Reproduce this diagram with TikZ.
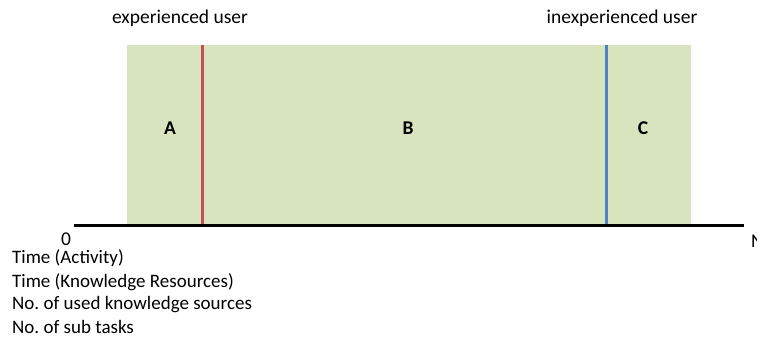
\documentclass[tikz,border=0pt]{standalone}
\usepackage{fontspec}
\setmainfont{Carlito}
\frenchspacing
\definecolor{zonegreen}{HTML}{D7E4BD}
\definecolor{expred}{HTML}{C0504D}
\definecolor{inexpblue}{HTML}{4F81BD}
\begin{document}
\begin{tikzpicture}[x=1pt,y=-1pt,
  lbl/.style={font=\fontsize{19.5}{22}\selectfont, inner sep=0pt},
  zone/.style={font=\fontsize{19.5}{22}\selectfont\bfseries, inner sep=0pt},
  metric/.style={font=\fontsize{19}{22}\selectfont, inner sep=0pt, anchor=west}]
\useasboundingbox (0,0) rectangle (757,338);
\fill[zonegreen] (127,45) rectangle (691,225);
\coordinate (redtop) at (202,45);
\coordinate (redbot) at (202,225);
\coordinate (bluetop) at (606,45);
\coordinate (bluebot) at (606,225);
\draw[expred, line width=3pt] (redtop) -- (redbot);
\draw[inexpblue, line width=3pt] (bluetop) -- (bluebot);
\coordinate (axl) at (74,225.5);
\coordinate (axr) at (744,225.5);
\draw[black, line width=3pt] (axl) -- (axr);
\node[zone] (A) at (170,128) {A};
\node[zone] (B) at (408,128) {B};
\node[zone] (C) at (643,128) {C};
\node[lbl] (exp) at (180,18) {experienced user};
\node[lbl] (inexp) at (622,18) {inexperienced user};
\node[lbl] (zero) at (66,239) {0};
\node[lbl, anchor=west] (N) at (751,241) {N};
\node[metric] (m1) at (12,258) {Time (Activity)};
\node[metric] (m2) at (12,282) {Time (Knowledge Resources)};
\node[metric] (m3) at (12,305) {No. of used knowledge sources};
\node[metric] (m4) at (12,327) {No. of sub tasks};
\end{tikzpicture}
\end{document}
